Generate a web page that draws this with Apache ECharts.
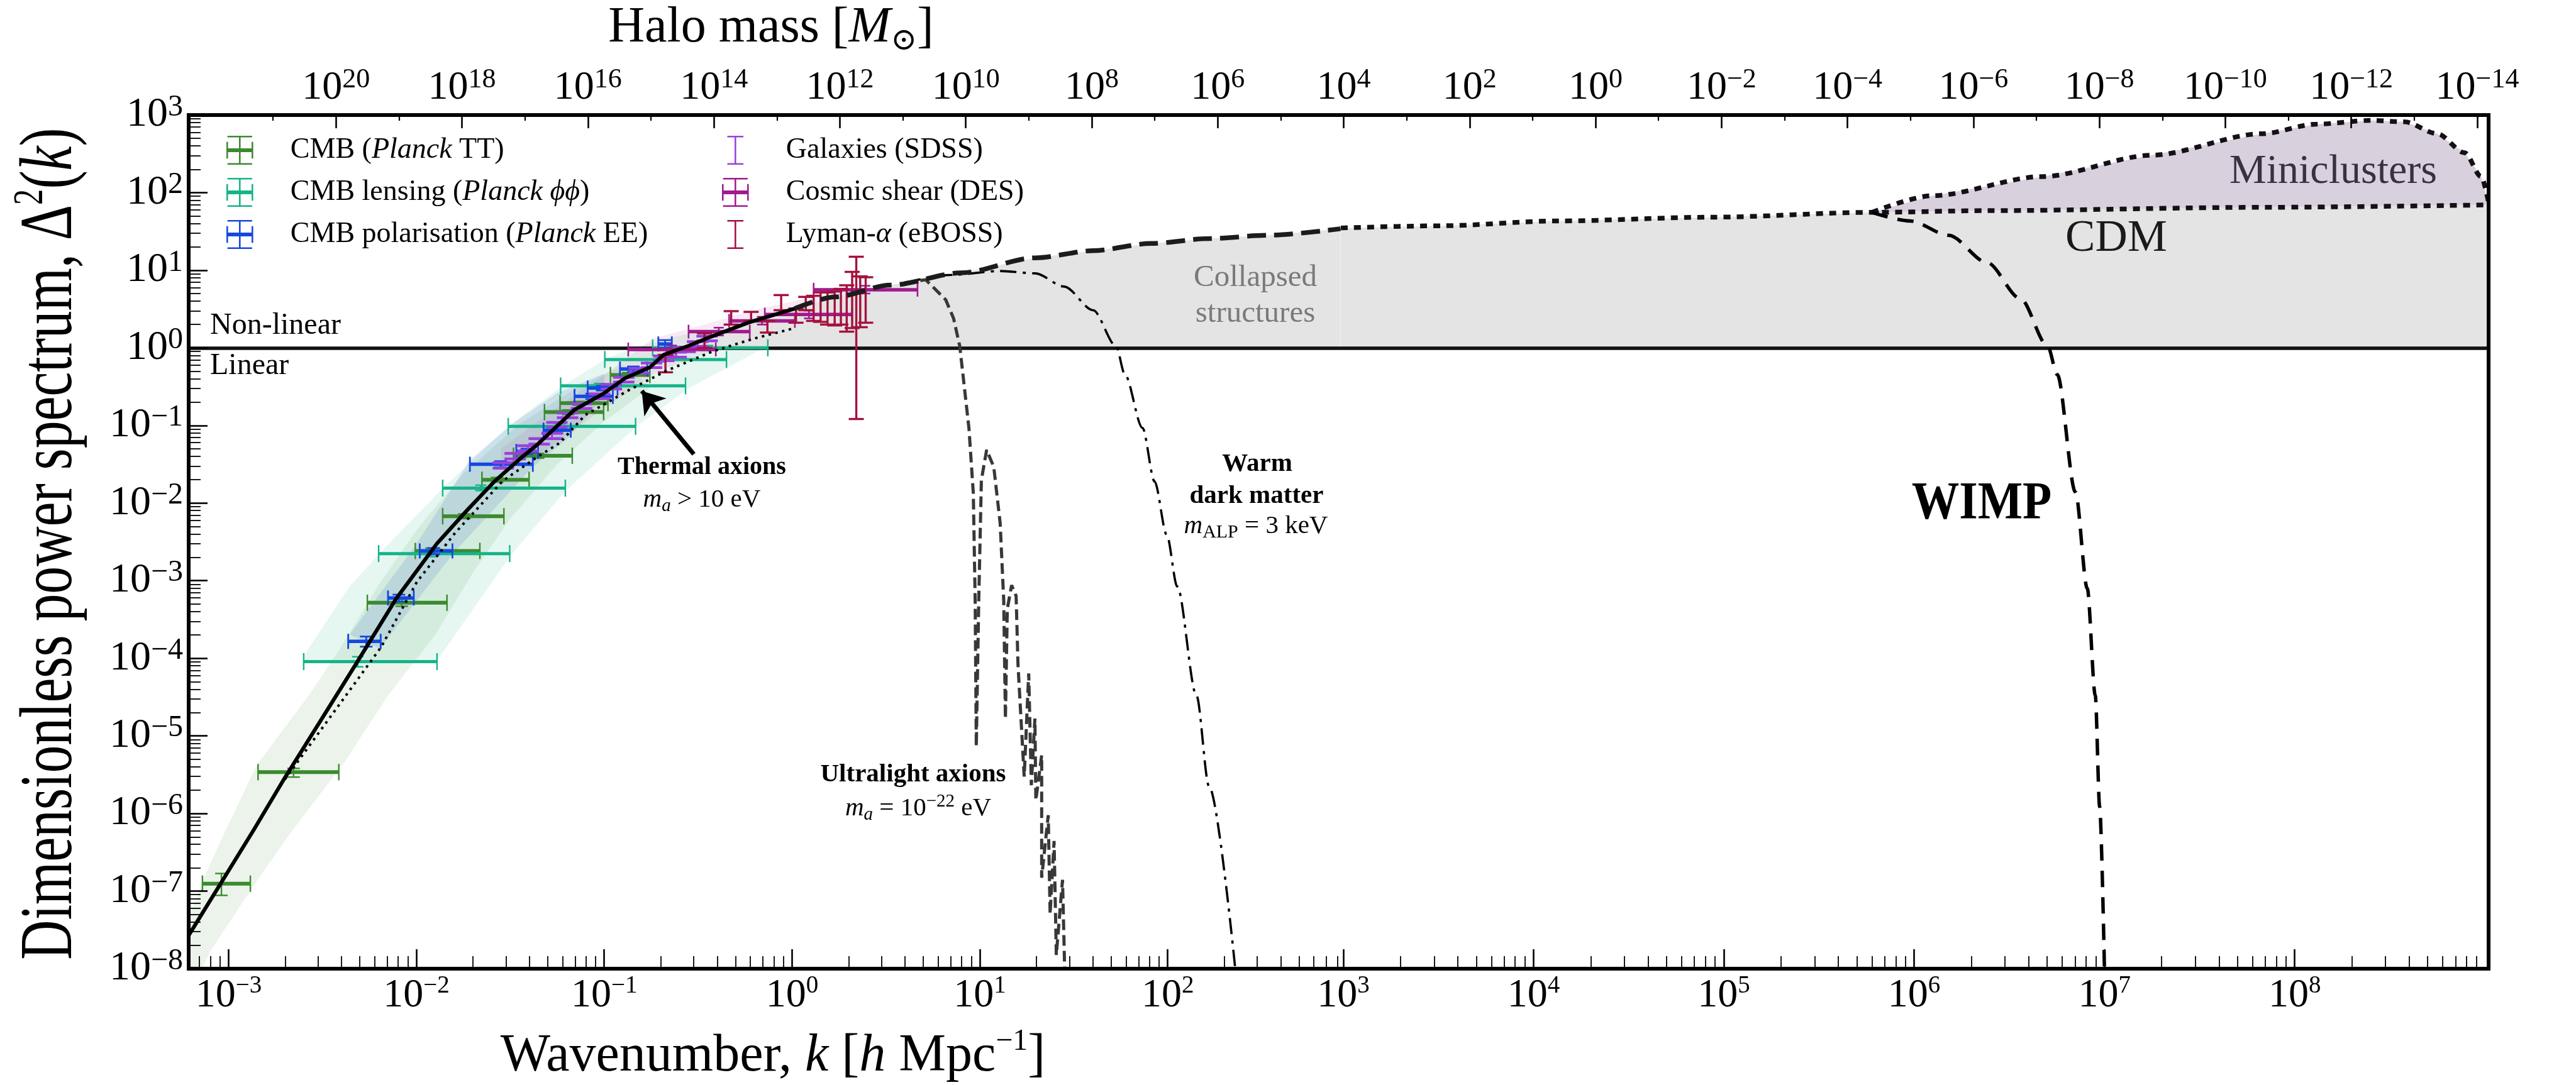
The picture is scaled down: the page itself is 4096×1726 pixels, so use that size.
<!DOCTYPE html>
<html>
<head>
<meta charset="utf-8">
<title>Dimensionless power spectrum</title>
<script src="https://cdn.jsdelivr.net/npm/echarts@6.0.0/dist/echarts.min.js"></script>
<style>
html,body{margin:0;padding:0;background:#ffffff;}
#chart{width:4096px;height:1726px;}
</style>
</head>
<body>
<div id="chart"></div>
<script>
const FONT = '"Liberation Serif", "DejaVu Serif", serif';

// ================= DATA (log10 k [h/Mpc], log10 Delta^2) =================
// axis extents (log10)
const kRangeLeft = [-3.2123, 2.9217];
const kRangeRight = [2.987, 9.019];
const massRange = [-14.18, 22.34];
const dRange = [-8, 3];

// tick exponents
const kMajorLeft = [-3, -2, -1, 0, 1, 2];
const kMajorRight = [3, 4, 5, 6, 7, 8];
const dMajor = [-8, -7, -6, -5, -4, -3, -2, -1, 0, 1, 2, 3];
const massMajor = [20, 18, 16, 14, 12, 10, 8, 6, 4, 2, 0, -2, -4, -6, -8, -10, -12, -14];
const massMinor = [21, 19, 17, 15, 13, 11, 9, 7, 5, 3, 1, -1, -3, -5, -7, -9, -11, -13];

// CDM linear power spectrum (solid part)
const cdmSolidLogK = [-3.212, -2.863, -2.703, -2.514, -2.326, -2.107, -1.890, -1.729, -1.584, -1.439, -1.360, -1.158, -1.004, -0.888, -0.757, -0.683, -0.552, -0.436, -0.232, 0.015];
const cdmSolidLogD = [-7.57, -6.20, -5.55, -4.82, -4.09, -3.23, -2.52, -2.09, -1.72, -1.41, -1.256, -0.797, -0.589, -0.389, -0.251, -0.088, 0.025, 0.14, 0.326, 0.507];
// CDM (dashed, left panel)
const cdmDashLogK = [0.015, 0.232, 0.523, 0.902, 1.295, 1.603, 1.91, 2.22, 2.53, 2.92];
const cdmDashLogD = [0.507, 0.657, 0.808, 0.967, 1.16, 1.252, 1.345, 1.408, 1.45, 1.535];
// CDM (dotted, right panel)
const cdmDotLogK = [2.987, 3.513, 4.123, 4.942, 5.778, 6.384, 7.827, 9.019];
const cdmDotLogD = [1.545, 1.573, 1.635, 1.684, 1.746, 1.768, 1.811, 1.842];
// Axion miniclusters (upper dotted)
const mcLogK = [5.778, 6.094, 6.673, 7.25, 7.827, 8.115, 8.403, 8.578, 8.749, 8.894, 8.98, 9.019];
const mcLogD = [1.746, 1.96, 2.207, 2.483, 2.759, 2.883, 2.931, 2.912, 2.759, 2.513, 2.207, 1.87];
// WIMP cut-off
const wimpLogK = [5.778, 5.979, 6.182, 6.384, 6.558, 6.702, 6.752, 6.848, 6.91, 6.952, 6.975, 7.0];
const wimpLogD = [1.746, 1.635, 1.45, 1.098, 0.636, 0.023, -0.343, -1.86, -3.1, -4.478, -5.911, -7.98];
// Warm dark matter, m_ALP = 3 keV
const wdmLogK = [0.6, 0.85, 1.108, 1.295, 1.449, 1.603, 1.725, 1.772, 1.866, 1.93, 1.995, 2.051, 2.153, 2.22, 2.359];
const wdmLogD = [0.84, 0.94, 0.99, 0.96, 0.79, 0.485, 0.023, -0.343, -1.032, -1.721, -2.41, -3.076, -4.478, -5.65, -7.986];
// Ultralight axions, m_a = 1e-22 eV
const ulaLogK = [0.60, 0.712, 0.818, 0.86, 0.893, 0.942, 0.965, 0.975, 0.981, 0.994, 1.008, 1.036, 1.074, 1.108, 1.127, 1.136, 1.146, 1.169, 1.193, 1.203, 1.236, 1.26, 1.274, 1.293, 1.298, 1.329, 1.329, 1.364, 1.374, 1.395, 1.407, 1.44, 1.452];
const ulaLogD = [0.84, 0.877, 0.62, 0.38, 0.02, -1.04, -1.87, -3.254, -5.137, -3.254, -1.704, -1.314, -1.535, -2.258, -3.254, -4.777, -3.365, -3.058, -3.199, -4.085, -5.525, -4.195, -5.636, -4.777, -5.83, -5.25, -6.828, -6.022, -7.296, -6.355, -7.824, -6.855, -8.06];
// Thermal axions, m_a > 10 eV
const thermalLogK = [-2.70, -2.188, -1.997, -1.793, -1.54, -1.366, -1.235, -1.104, -0.872, -0.668, -0.421, -0.204, 0.015];
const thermalLogD = [-5.56, -3.857, -3.015, -2.382, -1.714, -1.422, -1.222, -0.871, -0.549, -0.294, -0.044, 0.119, 0.255];
// arrow pointing at the thermal-axion curve [tail, tip]
const thermalArrowLogK = [-0.523, -0.80];
const thermalArrowLogD = [-1.37, -0.555];
// non-linear threshold Delta^2 = 1
const linearThresholdLogD = 0;

// Measurements: [logk, logkLo, logkHi, logD, logDLo, logDHi]
const planckTT = [
  [-3.038, -3.139, -2.884, -6.904, -7.055, -6.773],
  [-2.654, -2.843, -2.413, -5.467, -5.531, -5.419],
  [-2.078, -2.261, -1.837, -3.284, -3.33, -3.24],
  [-1.919, -2.006, -1.662, -2.617, -2.66, -2.58],
  [-1.745, -1.86, -1.534, -2.169, -2.20, -2.14],
  [-1.570, -1.651, -1.40, -1.70, -1.73, -1.67],
  [-1.352, -1.483, -1.170, -1.39, -1.42, -1.36],
  [-1.192, -1.318, -1.003, -0.828, -0.86, -0.80],
  [-1.134, -1.235, -0.980, -0.712, -0.74, -0.69],
  [-0.872, -0.967, -0.757, -0.35, -0.38, -0.32]
];
const planckLensing = [
  [-2.312, -2.600, -1.890, -4.043, -4.11, -3.98],
  [-1.919, -2.201, -1.503, -2.651, -2.69, -2.61],
  [-1.657, -1.86, -1.207, -1.807, -1.84, -1.77],
  [-1.235, -1.511, -0.833, -1.011, -1.04, -0.98],
  [-1.024, -1.232, -0.567, -0.49, -0.52, -0.46],
  [-0.70, -0.997, -0.349, -0.15, -0.18, -0.12],
  [-0.45, -0.742, -0.129, 0.0, -0.03, 0.03]
];
const planckEE = [
  [-2.267, -2.363, -2.19, -3.782, -3.85, -3.72],
  [-2.093, -2.151, -2.014, -3.223, -3.27, -3.18],
  [-1.907, -1.982, -1.808, -2.617, -2.66, -2.58],
  [-1.551, -1.715, -1.380, -1.50, -1.54, -1.46],
  [-1.412, -1.468, -1.352, -1.335, -1.37, -1.30],
  [-1.252, -1.323, -1.178, -1.06, -1.10, -1.02],
  [-1.067, -1.158, -0.954, -0.625, -0.66, -0.59],
  [-1.01, -1.088, -0.929, -0.518, -0.55, -0.49],
  [-0.845, -0.916, -0.771, -0.273, -0.31, -0.24],
  [-0.676, -0.712, -0.64, 0.05, 0.0, 0.10]
];
const desShear = [
  [-0.64, -0.872, -0.406, -0.021, -0.07, 0.03],
  [-0.39, -0.551, -0.225, 0.209, 0.16, 0.26],
  [-0.16, -0.335, 0.015, 0.347, 0.30, 0.40],
  [0.09, -0.145, 0.32, 0.43, 0.38, 0.48],
  [0.39, 0.115, 0.668, 0.749, 0.70, 0.80]
];
// [logk, logD, logDLo, logDHi]
const sdssGalaxies = [
  [-1.537, -1.514, -1.55, -1.48], [-1.474, -1.397, -1.43, -1.36], [-1.406, -1.294, -1.33, -1.26],
  [-1.346, -1.204, -1.24, -1.17], [-1.278, -1.135, -1.17, -1.10], [-1.252, -0.99, -1.02, -0.96],
  [-1.195, -0.87, -0.90, -0.84], [-1.121, -0.747, -0.78, -0.72], [-1.024, -0.625, -0.655, -0.595],
  [-0.962, -0.501, -0.53, -0.47], [-0.896, -0.411, -0.44, -0.38], [-0.813, -0.294, -0.325, -0.265],
  [-0.748, -0.225, -0.255, -0.195], [-0.683, -0.136, -0.165, -0.105], [-0.617, -0.088, -0.12, -0.055],
  [-0.569, -0.019, -0.05, 0.01], [-0.503, 0.05, 0.02, 0.08], [-0.452, 0.119, 0.09, 0.15]
];
const ebossLyman = [
  [-0.674, -0.20, -0.315, -0.09], [-0.466, 0.094, 0.0, 0.188], [-0.324, 0.386, 0.30, 0.473],
  [-0.218, 0.405, 0.347, 0.464], [-0.131, 0.272, 0.197, 0.347], [-0.058, 0.582, 0.485, 0.68],
  [0.021, 0.415, 0.324, 0.507], [0.073, 0.571, 0.485, 0.657], [0.115, 0.509, 0.347, 0.671],
  [0.152, 0.524, 0.335, 0.714], [0.189, 0.507, 0.30, 0.714], [0.227, 0.507, 0.289, 0.726],
  [0.26, 0.53, 0.30, 0.76], [0.291, 0.507, 0.209, 0.806], [0.32, 0.617, 0.255, 0.979],
  [0.342, 0.13, -0.917, 1.174], [0.363, 0.593, 0.266, 0.921], [0.392, 0.617, 0.324, 0.91]
];

// Shaded uncertainty bands (polygons of [logk, logD])
const ttBand = [[-3.212,-7.35],[-3.139,-6.869],[-3.024,-6.263],[-2.849,-5.371],[-2.573,-4.478],[-2.40,-3.85],[-2.20,-3.05],[-2.00,-2.35],[-1.75,-1.62],[-1.45,-0.98],[-1.15,-0.52],[-0.90,-0.22],
  [-0.75,-0.50],[-1.00,-0.95],[-1.25,-1.50],[-1.50,-2.20],[-1.70,-2.90],[-1.90,-3.70],[-2.151,-4.478],[-2.383,-5.339],[-2.674,-6.263],[-2.849,-6.869],[-3.095,-7.765],[-3.139,-7.986],[-3.212,-7.986]];
const lensingBand = [[-2.6,-3.968],[-2.355,-3.072],[-2.181,-2.61],[-1.86,-1.81],[-1.511,-1.011],[-1.221,-0.487],[-0.987,-0.136],[-0.842,0.002],[-0.511,0.21],[-0.141,0.07],
  [-0.144,0.002],[-0.551,-0.522],[-0.827,-1.011],[-1.207,-1.845],[-1.497,-2.672],[-1.89,-4.03],[-2.6,-4.05]];
const eeBand = [[-2.355,-3.692],[-2.006,-2.551],[-1.715,-1.445],[-1.48,-0.963],[-1.252,-0.584],[-1.0,-0.33],
  [-1.0,-0.62],[-1.195,-1.17],[-1.38,-1.535],[-1.802,-2.644],[-2.195,-3.875]];
const lssBand = [[-1.55,-1.3],[-1.3,-0.85],[-1.0,-0.35],[-0.742,0.117],[-0.466,0.30],[-0.204,0.485],[0.087,0.645],[0.378,0.783],[0.668,0.76],
  [0.668,0.714],[0.306,0.347],[-0.058,0.209],[-0.42,-0.044],[-0.71,-0.296],[-1.0,-0.78],[-1.3,-1.3],[-1.55,-1.6]];

// ================= helpers =================
function minorLogs(lo, hi) {
  const out = [];
  for (let n = Math.floor(lo) - 1; n <= Math.ceil(hi); n++) {
    for (let m = 2; m <= 9; m++) { const v = n + Math.log10(m); if (v > lo && v < hi) out.push(v); }
  }
  return out;
}
function supExp(e) { e = Math.round(e); return e < 0 ? '\u2212' + (-e) : String(e); }
function pairs(ks, ds) { return ks.map((k, i) => [k, ds[i]]); }

const richBottom = {
  b: { fontSize: 64, fontFamily: FONT, color: '#000', lineHeight: 70, verticalAlign: 'middle' },
  s: { fontSize: 39, fontFamily: FONT, color: '#000', lineHeight: 44, verticalAlign: 'top' }
};
const richTop = {
  b: { fontSize: 64, fontFamily: FONT, color: '#000', lineHeight: 70, verticalAlign: 'middle' },
  s: { fontSize: 44, fontFamily: FONT, color: '#000', lineHeight: 41, verticalAlign: 'top' }
};
const richY = {
  b: { fontSize: 66, fontFamily: FONT, color: '#000', lineHeight: 72, verticalAlign: 'middle' },
  s: { fontSize: 48, fontFamily: FONT, color: '#000', lineHeight: 41, verticalAlign: 'top' }
};
const expFmt = v => '{b|10}{s|' + supExp(v) + '}';

function majorAxis(extra) {
  return Object.assign({
    type: 'value', z: 10, splitLine: { show: false }, silent: true,
    axisLine: { show: true, onZero: false, lineStyle: { color: '#000', width: 6, cap: 'square' } }
  }, extra);
}

function polygonSeries(points, color, xi, yi, z) {
  return {
    type: 'custom', xAxisIndex: xi, yAxisIndex: yi, z: z, silent: true, clip: true,
    encode: { x: 0, y: 1 }, data: [points[0]],
    renderItem: function (params, api) {
      return { type: 'polygon', shape: { points: points.map(p => api.coord(p)) }, style: { fill: color } };
    }
  };
}
function lineSeries(ks, ds, xi, yi, style, z, smooth) {
  return {
    type: 'line', xAxisIndex: xi, yAxisIndex: yi, data: pairs(ks, ds), symbol: 'none', showSymbol: false,
    lineStyle: style, z: z, smooth: smooth || false, smoothMonotone: 'x', clip: true, silent: true
  };
}
function errorBarSeries(name, rows, color, st) {
  return {
    type: 'custom', name: name, xAxisIndex: 0, yAxisIndex: 0, z: st.z, silent: true, clip: true,
    itemStyle: { color: color },
    encode: { x: [0, 1, 2], y: [3, 4, 5] },
    data: rows,
    renderItem: function (params, api) {
      const x = api.value(0), xl = api.value(1), xh = api.value(2);
      const y = api.value(3), yl = api.value(4), yh = api.value(5);
      const ch = [];
      const seg = (x1, y1, x2, y2, w) => ch.push({ type: 'line', shape: { x1: x1, y1: y1, x2: x2, y2: y2 }, style: { stroke: color, lineWidth: w, lineCap: 'butt' } });
      if (xh > xl) {
        const a = api.coord([xl, y]), b = api.coord([xh, y]);
        seg(a[0], a[1], b[0], b[1], st.hw);
        seg(a[0], a[1] - st.hc / 2, a[0], a[1] + st.hc / 2, st.cw);
        seg(b[0], b[1] - st.hc / 2, b[0], b[1] + st.hc / 2, st.cw);
      }
      if (yh > yl) {
        const a = api.coord([x, yl]), b = api.coord([x, yh]);
        seg(a[0], a[1], b[0], b[1], st.vw);
        seg(a[0] - st.vc / 2, a[1], a[0] + st.vc / 2, a[1], st.vcw);
        seg(b[0] - st.vc / 2, b[1], b[0] + st.vc / 2, b[1], st.vcw);
      }
      return { type: 'group', children: ch };
    }
  };
}
const vertRows = rows => rows.map(r => [r[0], r[0], r[0], r[1], r[2], r[3]]);

// gray "collapsed structures" regions (above Delta^2 = 1, under CDM)
const cdmLeftK = cdmSolidLogK.concat(cdmDashLogK.slice(1));
const cdmLeftD = cdmSolidLogD.concat(cdmDashLogD.slice(1));
const grayLeft = [];
for (let i = 1; i < cdmLeftK.length; i++) {
  if (cdmLeftD[i - 1] < linearThresholdLogD && cdmLeftD[i] >= linearThresholdLogD) {
    const t = (linearThresholdLogD - cdmLeftD[i - 1]) / (cdmLeftD[i] - cdmLeftD[i - 1]);
    grayLeft.push([cdmLeftK[i - 1] + t * (cdmLeftK[i] - cdmLeftK[i - 1]), linearThresholdLogD]);
  }
  if (cdmLeftD[i] >= linearThresholdLogD) grayLeft.push([cdmLeftK[i], cdmLeftD[i]]);
}
grayLeft.push([cdmLeftK[cdmLeftK.length - 1], linearThresholdLogD]);
const grayRight = [[cdmDotLogK[0], linearThresholdLogD]].concat(pairs(cdmDotLogK, cdmDotLogD), [[cdmDotLogK[cdmDotLogK.length - 1], linearThresholdLogD]]);
const mcFill = pairs(mcLogK, mcLogD).concat(pairs(cdmDotLogK, cdmDotLogD).filter(p => p[0] >= mcLogK[0]).reverse());

// legend
const plusIcon = 'path://M23.5,0h3v54h-3z M2,0h46v3h-46z M2,51h46v3h-46z M0,23.5h50v7h-50z M0,11.5h3v31h-3z M47,11.5h3v31h-3z';
const barIcon = 'path://M0,0h0.01v0.01h-0.01z M49.99,53.99h0.01v0.01h-0.01z M23.5,0h3v54h-3z M10,0h30v3h-30z M10,51h30v3h-30z';
const COLORS = { tt: '#3b8a2f', lens: '#15b488', ee: '#1448e0', gal: '#9a40dc', shear: '#a11a8e', lya: '#a4123e' };
const NAMES = {
  tt: 'CMB (Planck TT)', lens: 'CMB lensing (Planck \u03D5\u03D5)', ee: 'CMB polarisation (Planck EE)',
  gal: 'Galaxies (SDSS)', shear: 'Cosmic shear (DES)', lya: 'Lyman-\u03B1 (eBOSS)'
};
const legendText = {};
legendText[NAMES.tt] = '{sp| }{n|CMB (}{i|Planck}{n| TT)}';
legendText[NAMES.lens] = '{sp| }{n|CMB lensing (}{i|Planck \u03D5\u03D5}{n|)}';
legendText[NAMES.ee] = '{sp| }{n|CMB polarisation (}{i|Planck}{n| EE)}';
legendText[NAMES.gal] = '{sp| }{n|Galaxies (SDSS)}';
legendText[NAMES.shear] = '{sp| }{n|Cosmic shear (DES)}';
legendText[NAMES.lya] = '{sp| }{n|Lyman-}{i|\u03B1}{n| (eBOSS)}';
function legendCfg(items, left, sp) {
  return {
    show: true, orient: 'vertical', left: left, top: 216, padding: 0, itemGap: 21,
    itemWidth: 43, itemHeight: 46, selectedMode: false,
    data: items.map(it => ({ name: NAMES[it[0]], icon: it[1], itemStyle: { color: COLORS[it[0]], borderWidth: 0 } })),
    formatter: name => legendText[name],
    textStyle: {
      fontFamily: FONT, fontSize: 46, color: '#000', lineHeight: 46,
      rich: {
        sp: { width: sp, fontSize: 46, lineHeight: 46 },
        n: { fontFamily: FONT, fontSize: 46, color: '#000', lineHeight: 46 },
        i: { fontFamily: FONT, fontSize: 46, color: '#000', lineHeight: 46, fontStyle: 'italic' }
      }
    }
  };
}

// text annotation helpers
const annRich = {
  n: { fontFamily: FONT, fontSize: 41, lineHeight: 50, verticalAlign: 'middle', fill: '#000' },
  i: { fontFamily: FONT, fontSize: 41, lineHeight: 50, verticalAlign: 'middle', fill: '#000', fontStyle: 'italic' },
  isub: { fontFamily: FONT, fontSize: 29, lineHeight: 30, verticalAlign: 'bottom', fill: '#000', fontStyle: 'italic' },
  sub: { fontFamily: FONT, fontSize: 30, lineHeight: 30, verticalAlign: 'bottom', fill: '#000' },
  sup: { fontFamily: FONT, fontSize: 29, lineHeight: 22, verticalAlign: 'top', fill: '#000' }
};
function txt(x, y, text, st, extra) {
  return Object.assign({
    type: 'text', x: x, y: y, z: 100, silent: true,
    style: Object.assign({ text: text, fontFamily: FONT, fontSize: 48, fill: '#000', align: 'center', verticalAlign: 'middle' }, st)
  }, extra || {});
}
const titleRich = {
  n: { fontFamily: FONT, fontSize: 84, lineHeight: 96, verticalAlign: 'middle', fill: '#000' },
  i: { fontFamily: FONT, fontSize: 84, lineHeight: 96, verticalAlign: 'middle', fill: '#000', fontStyle: 'italic' },
  sup: { fontFamily: FONT, fontSize: 48, lineHeight: 54, verticalAlign: 'top', fill: '#000' }
};
const topTitleRich = {
  n: { fontFamily: FONT, fontSize: 80, lineHeight: 92, verticalAlign: 'middle', fill: '#000' },
  i: { fontFamily: FONT, fontSize: 80, lineHeight: 92, verticalAlign: 'middle', fill: '#000', fontStyle: 'italic' },
  sub: { fontFamily: '"DejaVu Serif", "DejaVu Sans", serif', fontSize: 50, lineHeight: 48, verticalAlign: 'bottom', fill: '#000' }
};
const yTitleRich = {
  n: { fontFamily: FONT, fontSize: 118, lineHeight: 134, verticalAlign: 'middle', fill: '#000' },
  i: { fontFamily: FONT, fontSize: 118, lineHeight: 134, verticalAlign: 'middle', fill: '#000', fontStyle: 'italic' },
  sup: { fontFamily: FONT, fontSize: 68, lineHeight: 72, verticalAlign: 'top', fill: '#000' }
};

// ================= chart =================
const chart = echarts.init(document.getElementById('chart'), null, { renderer: 'canvas' });
const option = {
  backgroundColor: '#ffffff',
  animation: false,
  textStyle: { fontFamily: FONT },
  grid: [
    { left: 300, top: 183, width: 1832, height: 1358, containLabel: false, outerBoundsMode: 'none' },
    { left: 2132, top: 183, width: 1825, height: 1358, containLabel: false, outerBoundsMode: 'none' },
    { left: 300, top: 183, width: 3657, height: 1358, containLabel: false, outerBoundsMode: 'none' }
  ],
  xAxis: [
    majorAxis({ gridIndex: 0, position: 'bottom', min: kRangeLeft[0], max: kRangeLeft[1],
      axisTick: { show: true, inside: true, length: 31, lineStyle: { color: '#000', width: 2.6 }, customValues: kMajorLeft },
      axisLabel: { show: true, customValues: kMajorLeft, margin: 8, formatter: expFmt, rich: richBottom } }),
    majorAxis({ gridIndex: 0, position: 'bottom', min: kRangeLeft[0], max: kRangeLeft[1], axisLine: { show: false, onZero: false },
      axisTick: { show: true, inside: true, length: 20, lineStyle: { color: '#000', width: 1.8 }, customValues: minorLogs(kRangeLeft[0], kRangeLeft[1]) },
      axisLabel: { show: false } }),
    majorAxis({ gridIndex: 1, position: 'bottom', min: kRangeRight[0], max: kRangeRight[1],
      axisTick: { show: true, inside: true, length: 31, lineStyle: { color: '#000', width: 2.6 }, customValues: kMajorRight },
      axisLabel: { show: true, customValues: kMajorRight, margin: 8, formatter: expFmt, rich: richBottom } }),
    majorAxis({ gridIndex: 1, position: 'bottom', min: kRangeRight[0], max: kRangeRight[1], axisLine: { show: false, onZero: false },
      axisTick: { show: true, inside: true, length: 20, lineStyle: { color: '#000', width: 1.8 }, customValues: minorLogs(kRangeRight[0], kRangeRight[1]) },
      axisLabel: { show: false } }),
    majorAxis({ gridIndex: 2, position: 'top', inverse: true, min: massRange[0], max: massRange[1],
      axisTick: { show: true, inside: true, length: 21, lineStyle: { color: '#000', width: 2.6 }, customValues: massMajor },
      axisLabel: { show: true, customValues: massMajor, margin: 8, formatter: expFmt, rich: richTop } }),
    majorAxis({ gridIndex: 2, position: 'top', inverse: true, min: massRange[0], max: massRange[1], axisLine: { show: false, onZero: false },
      axisTick: { show: true, inside: true, length: 9, lineStyle: { color: '#000', width: 2.2 }, customValues: massMinor },
      axisLabel: { show: false } })
  ],
  yAxis: [
    majorAxis({ gridIndex: 0, position: 'left', min: dRange[0], max: dRange[1],
      axisTick: { show: true, inside: true, length: 30, lineStyle: { color: '#000', width: 2.6 }, customValues: dMajor },
      axisLabel: { show: true, customValues: dMajor, margin: 9, formatter: expFmt, rich: richY } }),
    majorAxis({ gridIndex: 0, position: 'left', min: dRange[0], max: dRange[1], axisLine: { show: false, onZero: false },
      axisTick: { show: true, inside: true, length: 19, lineStyle: { color: '#000', width: 1.8 }, customValues: minorLogs(dRange[0], dRange[1]) },
      axisLabel: { show: false } }),
    majorAxis({ gridIndex: 1, position: 'right', min: dRange[0], max: dRange[1],
      axisTick: { show: false }, axisLabel: { show: false } }),
    majorAxis({ gridIndex: 2, position: 'left', min: dRange[0], max: dRange[1], show: false,
      axisTick: { show: false }, axisLabel: { show: false }, axisLine: { show: false, onZero: false } })
  ],
  legend: [
    legendCfg([['tt', plusIcon], ['lens', plusIcon], ['ee', plusIcon]], 360, 54),
    legendCfg([['gal', barIcon], ['shear', plusIcon], ['lya', barIcon]], 1148, 54)
  ],
  series: [
    // bands & fills
    polygonSeries(ttBand, 'rgba(60,140,50,0.10)', 0, 0, 1),
    polygonSeries(lensingBand, 'rgba(30,180,130,0.11)', 0, 0, 1),
    polygonSeries(eeBand, 'rgba(30,80,200,0.13)', 0, 0, 1),
    polygonSeries(lssBand, 'rgba(190,90,170,0.13)', 0, 0, 1),
    polygonSeries(grayLeft, '#e4e4e4', 0, 0, 1),
    polygonSeries(grayRight, '#e4e4e4', 2, 2, 1),
    polygonSeries(mcFill, '#d9d0de', 2, 2, 1),
    // linear / non-linear threshold
    {
      type: 'line', xAxisIndex: 4, yAxisIndex: 3, data: [[4, linearThresholdLogD]], symbol: 'none', showSymbol: false,
      lineStyle: { width: 0 }, z: 3, silent: true,
      markLine: { silent: true, symbol: ['none', 'none'], label: { show: false },
        lineStyle: { color: '#111', width: 5.5, type: 'solid' }, data: [{ yAxis: linearThresholdLogD }] }
    },
    // measurements
    errorBarSeries(NAMES.tt, planckTT, COLORS.tt, { z: 5, hw: 6, hc: 26, cw: 2.4, vw: 2.4, vc: 20, vcw: 2.4 }),
    errorBarSeries(NAMES.lens, planckLensing, COLORS.lens, { z: 5, hw: 5, hc: 27, cw: 2.4, vw: 2.4, vc: 18, vcw: 2.4 }),
    errorBarSeries(NAMES.ee, planckEE, COLORS.ee, { z: 5, hw: 5.5, hc: 24, cw: 2.8, vw: 2.8, vc: 20, vcw: 2.8 }),
    errorBarSeries(NAMES.gal, vertRows(sdssGalaxies), COLORS.gal, { z: 5, hw: 0, hc: 0, cw: 0, vw: 3, vc: 34, vcw: 4.5 }),
    errorBarSeries(NAMES.shear, desShear, COLORS.shear, { z: 5, hw: 5.5, hc: 22, cw: 2.6, vw: 2.6, vc: 16, vcw: 2.6 }),
    errorBarSeries(NAMES.lya, vertRows(ebossLyman), COLORS.lya, { z: 5, hw: 0, hc: 0, cw: 0, vw: 3.4, vc: 24, vcw: 3.4 }),
    // theory curves, left panel
    lineSeries(thermalLogK, thermalLogD, 0, 0, { color: '#000', width: 4, type: [4, 7], cap: 'butt' }, 6, false),
    lineSeries(cdmSolidLogK, cdmSolidLogD, 0, 0, { color: '#000', width: 6, type: 'solid', join: 'round' }, 7, false),
    lineSeries(cdmDashLogK, cdmDashLogD, 0, 0, { color: '#1c1c1c', width: 7.5, type: [30, 13], cap: 'butt' }, 7, 0.3),
    lineSeries(wdmLogK, wdmLogD, 0, 0, { color: '#000', width: 3.6, type: [26, 10, 5, 10], cap: 'butt' }, 6, 0.3),
    lineSeries(ulaLogK, ulaLogD, 0, 0, { color: '#383838', width: 5, type: [17, 8], cap: 'butt' }, 6, false),
    // theory curves, right panel
    lineSeries(cdmDotLogK, cdmDotLogD, 2, 2, { color: '#151015', width: 7.5, type: [11, 10], cap: 'butt' }, 7, 0.3),
    lineSeries(mcLogK, mcLogD, 2, 2, { color: '#151015', width: 7.5, type: [11, 10], cap: 'butt' }, 7, 0.3),
    lineSeries(wimpLogK, wimpLogD, 2, 2, { color: '#000', width: 5.5, type: [26, 16], cap: 'butt' }, 7, 0.3),
    // arrow
    {
      type: 'lines', coordinateSystem: 'cartesian2d', xAxisIndex: 0, yAxisIndex: 0, z: 9, silent: true,
      symbol: ['none', 'arrow'], symbolSize: 34,
      lineStyle: { color: '#000', width: 7, opacity: 1, curveness: 0 },
      data: [{ coords: [[thermalArrowLogK[0], thermalArrowLogD[0]], [thermalArrowLogK[1], thermalArrowLogD[1]]] }]
    }
  ],
  graphic: [
    txt(334, 518, 'Non-linear', { align: 'left' }),
    txt(334, 582, 'Linear', { align: 'left' }),
    txt(1996, 442, 'Collapsed', { fontSize: 49, fill: '#7a7a7a' }),
    txt(1996, 499, 'structures', { fontSize: 49, fill: '#7a7a7a' }),
    txt(3710, 274, 'Miniclusters', { fontSize: 66, fill: '#3a3040' }),
    txt(3365, 380, 'CDM', { fontSize: 71, fill: '#1a1a1a' }),
    txt(3151, 803, 'WIMP', { fontSize: 84, fontWeight: 'bold' }, { scaleX: 0.9 }),
    txt(1116, 744, 'Thermal axions', { fontSize: 40, fontWeight: 'bold' }),
    txt(1116, 795, '{i|m}{isub|a}{n| > 10 eV}', { rich: annRich }),
    txt(1999, 738, 'Warm', { fontSize: 41, fontWeight: 'bold' }),
    txt(1998, 789, 'dark matter', { fontSize: 41, fontWeight: 'bold' }),
    txt(1997, 837, '{i|m}{sub|ALP}{n| = 3 keV}', { rich: annRich }),
    txt(1452, 1232, 'Ultralight axions', { fontSize: 41, fontWeight: 'bold' }),
    txt(1460, 1286, '{i|m}{isub|a}{n| = 10}{sup|\u221222}{n| eV}', { rich: annRich }),
    txt(1229, 1681, '{n|Wavenumber, }{i|k}{n| [}{i|h}{n| Mpc}{sup|\u22121}{n|]}', { rich: titleRich }),
    txt(1226, 45, '{n|Halo mass [}{i|M}{sub|\u2299}{n|]}', { rich: topTitleRich }),
    txt(82, 865, '{n|Dimensionless power spectrum, \u0394}{sup|2}{n|(}{i|k}{n|)}', { rich: yTitleRich }, { rotation: Math.PI / 2, scaleX: 0.743 })
  ]
};
chart.setOption(option);
</script>
</body>
</html>
